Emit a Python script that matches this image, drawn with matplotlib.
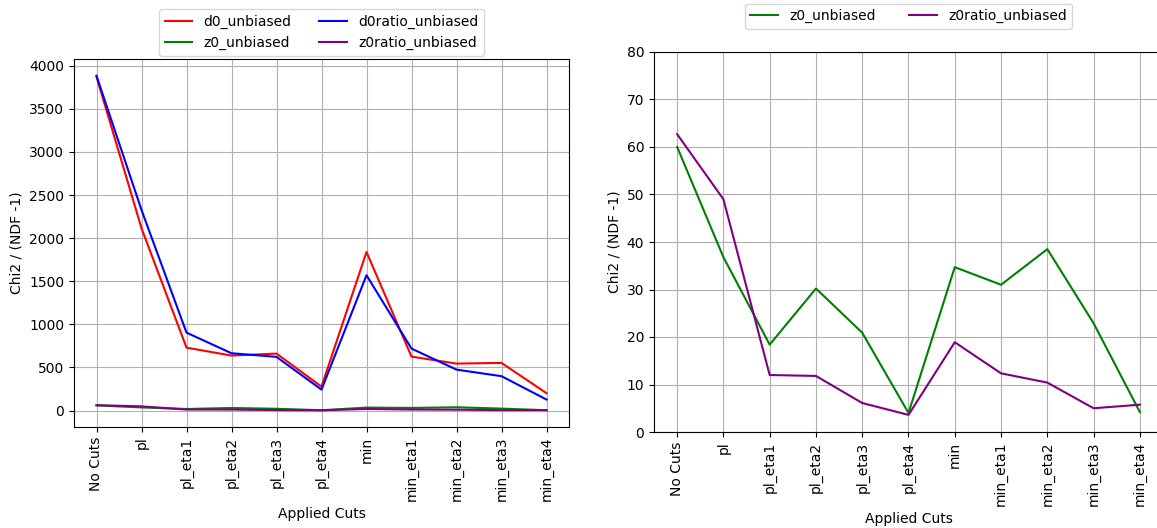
import matplotlib
matplotlib.use('Agg')
import matplotlib.pyplot as plt

# ── data ──────────────────────────────────────────────────────────────────────
cuts = ['No Cuts', 'pl', 'pl_eta1', 'pl_eta2', 'pl_eta3', 'pl_eta4',
        'min', 'min_eta1', 'min_eta2', 'min_eta3', 'min_eta4']

d0_unbiased      = [3872, 2115, 730, 638, 661, 278, 1840, 626, 545, 553, 202]
d0ratio_unbiased = [3884, 2327, 904, 665, 623, 243, 1570, 719, 475, 399, 128]
z0_unbiased      = [60.0, 36.8, 18.4, 30.2, 20.9, 4.0, 34.7, 31.0, 38.5, 22.9, 4.2]
z0ratio_unbiased = [62.7, 49.0, 12.0, 11.8, 6.1, 3.6, 18.9, 12.35, 10.4, 5.0, 5.75]

W, H = 1157, 528
fig = plt.figure(figsize=(W / 100, H / 100), dpi=100)

# axes placed in pixels (left, top, right, bottom); right panel runs off the edge
def px_axes(l, t, r, b):
    return fig.add_axes([l / W, (H - b) / H, (r - l) / W, (b - t) / H])

ax1 = px_axes(74, 59, 569, 427)
ax2 = px_axes(654, 52, 1163, 432)

# ── left: all four ────────────────────────────────────────────────────────────
ax1.plot(cuts, d0_unbiased, color='red', label='d0_unbiased')
ax1.plot(cuts, z0_unbiased, color='green', label='z0_unbiased')
ax1.plot(cuts, d0ratio_unbiased, color='blue', label='d0ratio_unbiased')
ax1.plot(cuts, z0ratio_unbiased, color='purple', label='z0ratio_unbiased')
ax1.legend(loc='lower center', bbox_to_anchor=(0.5, 1.0), ncol=2,
           borderaxespad=0.25)

# ── right: z0 only ────────────────────────────────────────────────────────────
ax2.plot(cuts, z0_unbiased, color='green', label='z0_unbiased')
ax2.plot(cuts, z0ratio_unbiased, color='purple', label='z0ratio_unbiased')
ax2.set_ylim(0, 80)
ax2.legend(loc='lower center', bbox_to_anchor=(0.5, 1.052), ncol=2,
           borderaxespad=0.25, columnspacing=2.4)

for ax in (ax1, ax2):
    ax.grid(True)
    ax.set_xlabel('Applied Cuts')
    ax.set_ylabel('Chi2 / (NDF -1)')
    ax.tick_params(axis='x', labelrotation=90)

fig.savefig('out.png', dpi=100)
